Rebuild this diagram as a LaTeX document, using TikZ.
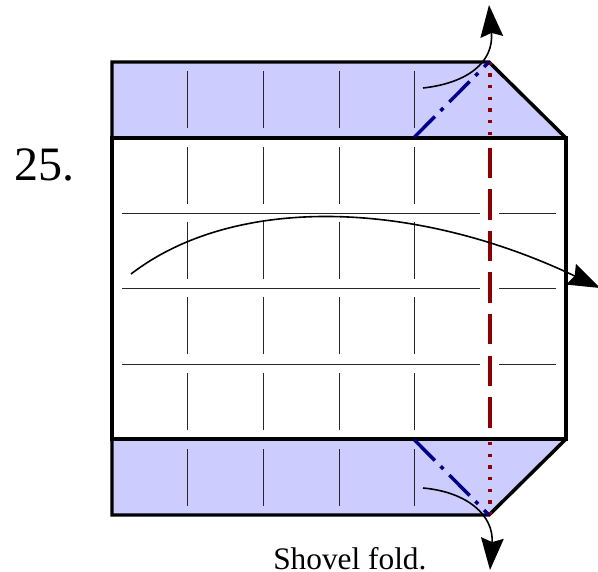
\documentclass[tikz,border=0pt]{standalone}
\usepackage{fontspec}
\setmainfont{Liberation Serif}
\usetikzlibrary{arrows.meta}
\definecolor{flapblue}{HTML}{CCCCFF}
\definecolor{valleyred}{HTML}{8B0000}
\definecolor{mountblue}{HTML}{00008B}
\tikzset{
  paper/.style={line width=2.6pt, line join=miter},
  crease/.style={line width=0.75pt, black!85},
  valley/.style={line width=2.6pt, valleyred, dash pattern=on 22.9pt off 8.3pt},
  pleat/.style={line width=2.6pt, valleyred, dash pattern=on 2.6pt off 6.15pt},
  mountain/.style={line width=2.6pt, mountblue, dash pattern=on 21.7pt off 6pt on 3pt off 6.3pt},
  foldarrow/.style={line width=1.2pt, -{Stealth[length=24pt, width=17pt, inset=3pt]}},
}
\begin{document}
\begin{tikzpicture}[x=0.75pt, y=-0.75pt]
\useasboundingbox (0,0) rectangle (598,571);

% Flaps
\fill[flapblue] (112,62) -- (489,62) -- (566,138) -- (112,138) -- cycle;
\fill[flapblue] (112,515) -- (489,515) -- (566,439) -- (112,439) -- cycle;

% Grid creases
\foreach \x in {187,263,339,414} {
  \foreach \ya/\yb in {71/128,147/204,222/279,297/354,373/430,449/506}
    \draw[crease] (\x,\ya) -- (\x,\yb);
}
\foreach \y in {213,288,364} {
  \draw[crease] (122,\y) -- (480,\y);
  \draw[crease] (499,\y) -- (556,\y);
}

% Outline
\draw[paper] (112,138) -- (112,62) -- (489,62) -- (566,138) -- (566,439) -- (489,515) -- (112,515) -- (112,439);
\draw[paper] (112,138) rectangle (566,439);

% Fold lines
\draw[pleat] (490,61.5) -- (490,136);
\draw[valley] (490,147.5) -- (490,430);
\draw[pleat] (490,442) -- (490,516);
\draw[mountain] (414.5,137) -- (489,62);
\draw[mountain] (414.5,440) -- (489,515);

% Arrows
\coordinate (topstart) at (423,88);
\coordinate (toptip) at (489,5);
\coordinate (botstart) at (423,488);
\coordinate (bottip) at (490,570);
\coordinate (swingstart) at (131,274);
\coordinate (swingtip) at (600,288);
\draw[foldarrow] (topstart) .. controls (468,83) and (494,62) .. (toptip);
\draw[foldarrow] (botstart) .. controls (468,492) and (494,516) .. (bottip);
\draw[foldarrow] (swingstart) .. controls (235,194) and (415,200) .. (swingtip);

% Labels
\node[font=\fontsize{36pt}{36pt}\selectfont, inner sep=0pt, anchor=base west] (stepnum) at (14,180) {25.};
\node[font=\fontsize{23.5pt}{24pt}\selectfont, inner sep=0pt, anchor=base west] (caption) at (273,569) {Shovel fold.};

\end{tikzpicture}
\end{document}
